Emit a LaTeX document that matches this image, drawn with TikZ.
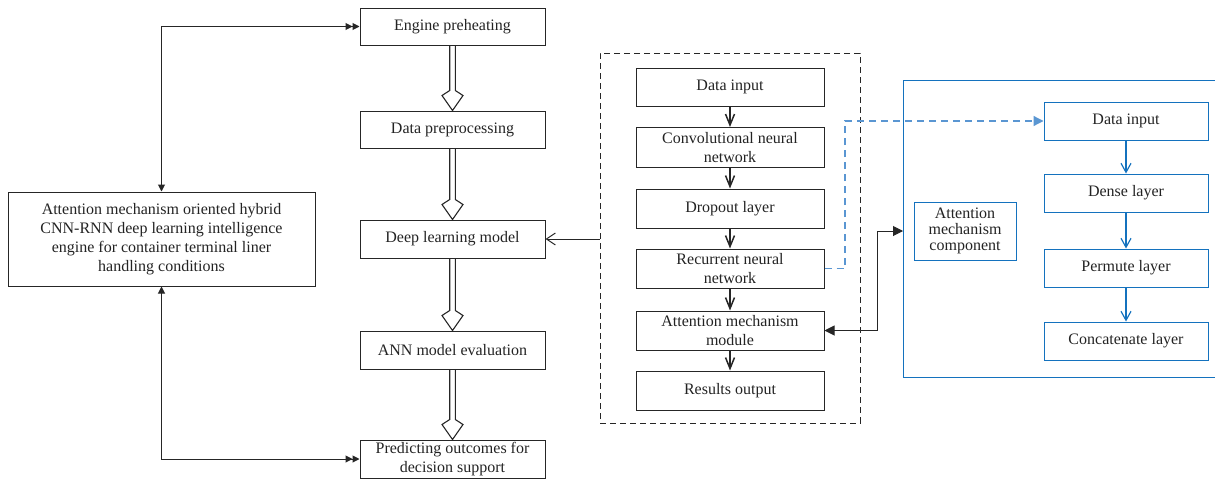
\documentclass[tikz,border=0pt]{standalone}
\usepackage{fontspec}
\setmainfont{Liberation Serif}
\usetikzlibrary{arrows.meta,positioning,calc}
\definecolor{bl}{RGB}{20,114,190}
\definecolor{bld}{RGB}{90,150,210}
\definecolor{tx}{RGB}{35,35,35}
\begin{document}
\begin{tikzpicture}[x=1pt,y=-1pt,
  every node/.style={font=\fontsize{16}{19}\selectfont, text=tx, align=center, inner sep=0pt},
  bx/.style={draw=black!85, line width=1pt, minimum width=185pt, minimum height=38pt},
  ibx/.style={draw=black!85, line width=1pt, minimum width=188pt, minimum height=39pt},
  bbx/.style={draw=bl, line width=1pt, minimum width=164pt, minimum height=38pt},
  hollow/.style={draw=black!85, line width=1.1pt, line join=miter,
    to path={let \p1=(\tikztostart.south), \p2=(\tikztotarget.north) in
      (\x1-2.8pt,\y1) -- (\x1-2.8pt,\y2+20pt) -- (\x1-10.5pt,\y2+15pt) -- (\x2,\y2) -- (\x1+10.5pt,\y2+15pt) -- (\x1+2.8pt,\y2+20pt) -- (\x1+2.8pt,\y1)}},
  small/.style={draw=black!85, line width=1.5pt, -{Straight Barb[length=11pt,width=9pt,line width=1.5pt]}},
  link/.style={draw=black!85, line width=1pt},
  dblink/.style={link, {Triangle[length=7pt,width=7pt]}-{Triangle[length=7pt,width=7pt]Triangle[length=7pt,width=7pt]}},
  blarr/.style={draw=bl, line width=1.2pt, -{Straight Barb[length=9pt,width=10pt,line width=1.2pt]}}
]
\useasboundingbox (0,0) rectangle (1215,479);

% left big box
\node[draw=black!85, line width=1pt, minimum width=307pt, minimum height=94pt] (main) at (161.5,239)
 {Attention mechanism oriented hybrid\\CNN-RNN deep learning intelligence\\engine for container terminal liner\\handling conditions};

% middle column
\node[bx, minimum height=37pt] (eng) at (452.5,26.5) {Engine preheating};
\node[bx, minimum height=37pt] (prep) at (452.5,129.5) {Data preprocessing};
\node[bx] (dl) at (452.5,239) {Deep learning model};
\node[bx] (ann) at (452.5,350) {ANN model evaluation};
\node[bx] (pred) at (452.5,459) {Predicting outcomes for\\decision support};

\draw[hollow] (eng) to (prep);
\draw[hollow] (prep) to (dl);
\draw[hollow] (dl) to (ann);
\draw[hollow] (ann) to (pred);

\draw[dblink] (main.north) -- (main.north |- eng.west) -- (eng.west);
\draw[dblink] (main.south) -- (main.south |- pred.west) -- (pred.west);

% dashed box
\node[draw=black!85, dash pattern=on 6pt off 4pt, line width=1pt, minimum width=260pt, minimum height=370pt] (dbox) at (730,238) {};
\node[ibx, minimum height=38pt] (din) at (730,87) {Data input};
\node[ibx, minimum height=40pt] (cnn) at (730,147.5) {Convolutional neural\\network};
\node[ibx] (drop) at (730,208.5) {Dropout layer};
\node[ibx] (rnn) at (730,268.5) {Recurrent neural\\network};
\node[ibx] (att) at (730,330.5) {Attention mechanism\\module};
\node[ibx] (res) at (730,390.5) {Results output};

\draw[small] (din) -- (cnn);
\draw[small] (cnn) -- (drop);
\draw[small] (drop) -- (rnn);
\draw[small] (rnn) -- (att);
\draw[small] (att) -- (res);

\draw[draw=black!85, line width=1pt, -{Straight Barb[length=9pt,width=12pt]}] (dbox.west |- dl.east) -- (dl.east);

% blue container
\coordinate (bnw) at (903,80);
\coordinate (bsw) at (903,377);
\coordinate (bleft) at (903,231);
\draw[bl, line width=1pt] (1216,80) -- (bnw) -- (bsw) -- (1216,377);

\node[draw=bl, line width=1pt, minimum width=102pt, minimum height=58pt, font=\fontsize{16}{16}\selectfont] (amc) at (965,231) {Attention\\mechanism\\component};

\node[bbx] (bdin) at (1126,121) {Data input};
\node[bbx] (dense) at (1126,193) {Dense layer};
\node[bbx] (perm) at (1126,268) {Permute layer};
\node[bbx] (conc) at (1126,341) {Concatenate layer};
\draw[blarr] (bdin) -- (dense);
\draw[blarr] (dense) -- (perm);
\draw[blarr] (perm) -- (conc);

% connectors
\draw[bld, line width=1.2pt, dash pattern=on 7pt off 5pt, -{Triangle[length=10pt,width=10pt]}] (rnn.east) -- (845,268.5) -- (845,121) -- (bdin.west);
\draw[link, {Triangle[length=10pt,width=10pt]}-{Triangle[length=10pt,width=10pt]}] (att.east) -- (877,330.5) -- (877,231) -- (bleft);
\end{tikzpicture}
\end{document}
